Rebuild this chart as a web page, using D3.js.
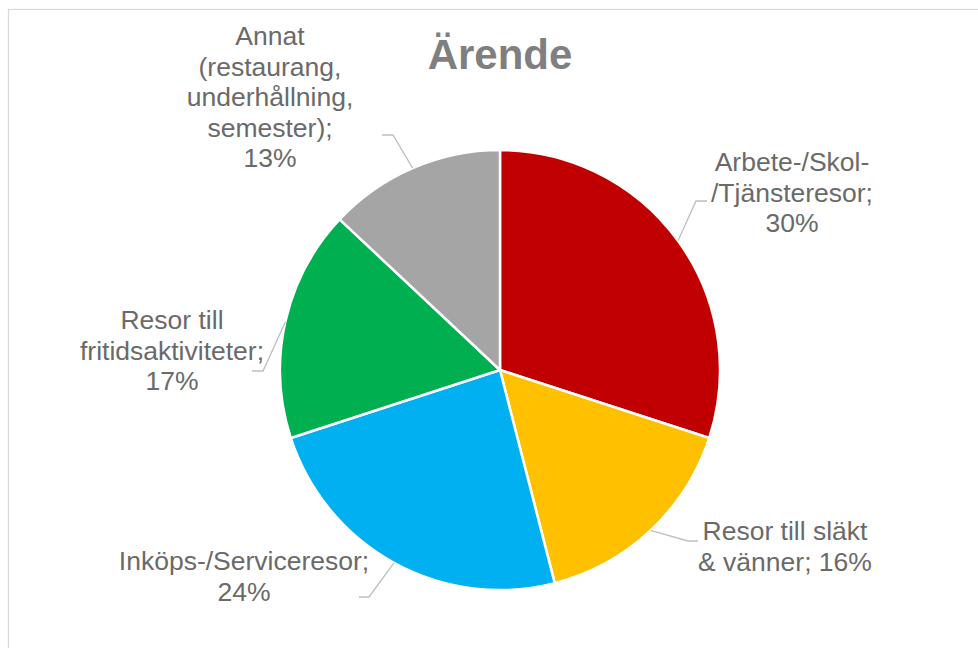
<!DOCTYPE html>
<html>
<head>
<meta charset="utf-8">
<script src="https://cdn.jsdelivr.net/npm/d3@7"></script>
<style>
  body { margin: 0; background: #fff; }
  svg { display: block; font-family: "Liberation Sans", Arial, sans-serif; }
</style>
</head>
<body>
<svg id="chart" width="978" height="648"></svg>
<script>
// data
const title = 'Ärende'
const categories = ['Arbete-/Skol-/Tjänsteresor', 'Resor till släkt & vänner', 'Inköps-/Serviceresor', 'Resor till fritidsaktiviteter', 'Annat (restaurang, underhållning, semester)']
const values = [30, 16, 24, 17, 13]
const labelLines = [
    ['Arbete-/Skol-', '/Tjänsteresor;', '30%'],
    ['Resor till släkt', '& vänner; 16%'],
    ['Inköps-/Serviceresor;', '24%'],
    ['Resor till', 'fritidsaktiviteter;', '17%'],
    ['Annat', '(restaurang,', 'underhållning,', 'semester);', '13%']
]
const colors = ['#C00000', '#FFC000', '#00B0F0', '#00B050', '#A5A5A5']

// layout of labels (elbow of leader line, end of tick, text centre, first baseline)
const labelLayout = [
    { ex: 696, ey: 201, tx: 707, cx: 792, by: 171 },
    { ex: 688, ey: 541, tx: 698, cx: 785, by: 540 },
    { ex: 369, ey: 597, tx: 359, cx: 244, by: 570 },
    { ex: 263, ey: 371, tx: 252, cx: 172, by: 329 },
    { ex: 393, ey: 135, tx: 382, cx: 270, by: 45 }
]

const svg = d3.select('#chart')
const cx = 500, cy = 370, r = 220
const lineH = 30.5

// frame
svg.append('rect')
    .attr('x', 8.5).attr('y', 9.5)
    .attr('width', 1000).attr('height', 700)
    .attr('fill', 'none').attr('stroke', '#d9d9d9').attr('stroke-width', 1.3)

svg.append('text')
    .attr('x', cx).attr('y', 69)
    .attr('text-anchor', 'middle')
    .attr('font-size', 42).attr('font-weight', 'bold')
    .attr('fill', '#7f7f7f')
    .text(title)

const pie = d3.pie().sort(null).value(function (d) { return d })
const arcs = pie(values)
const arc = d3.arc().innerRadius(0).outerRadius(r)

const g = svg.append('g').attr('transform', 'translate(' + cx + ',' + cy + ')')
g.selectAll('path')
    .data(arcs)
    .enter().append('path')
    .attr('d', arc)
    .attr('fill', function (d, i) { return colors[i] })
    .attr('stroke', '#fff')
    .attr('stroke-width', 2.5)
    .attr('stroke-linejoin', 'round')

// leader lines + labels
arcs.forEach(function (a, i) {
    const mid = (a.startAngle + a.endAngle) / 2
    const px = cx + r * Math.sin(mid)
    const py = cy - r * Math.cos(mid)
    const L = labelLayout[i]
    svg.append('polyline')
        .attr('points', [[px, py], [L.ex, L.ey], [L.tx, L.ey]].map(function (p) { return p.join(',') }).join(' '))
        .attr('fill', 'none')
        .attr('stroke', '#bfbfbf')
        .attr('stroke-width', 1.3)

    const t = svg.append('text')
        .attr('text-anchor', 'middle')
        .attr('font-size', 26.5)
        .attr('fill', '#6a6a6a')
    labelLines[i].forEach(function (line, j) {
        t.append('tspan')
            .attr('x', L.cx)
            .attr('y', L.by + j * lineH)
            .text(line)
    })
})
</script>
</body>
</html>
